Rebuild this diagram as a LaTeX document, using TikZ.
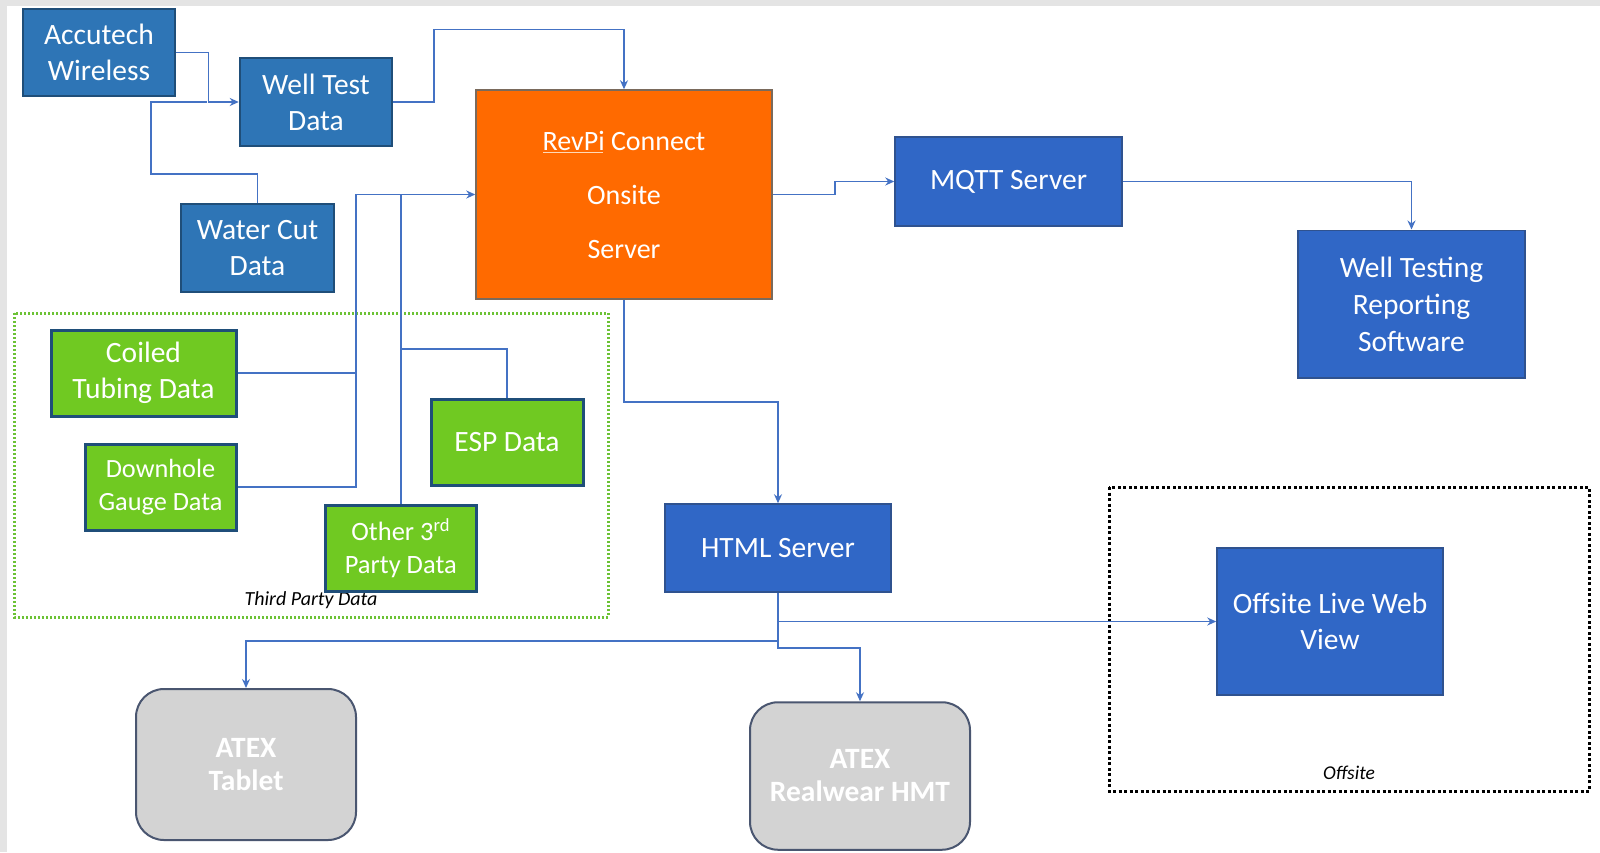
\documentclass[tikz,border=0pt]{standalone}
\usepackage{fontspec}
\setmainfont{Carlito}
\usetikzlibrary{arrows.meta}
\definecolor{bgGrey}{HTML}{E4E4E4}
\definecolor{stBlue}{HTML}{2E75B6}
\definecolor{stBorder}{HTML}{1F4E79}
\definecolor{brBlue}{HTML}{3067C6}
\definecolor{brBorder}{HTML}{2F528F}
\definecolor{oran}{HTML}{FF6A00}
\definecolor{oranBorder}{HTML}{7A6A5C}
\definecolor{grn}{HTML}{70C922}
\definecolor{gry}{HTML}{D3D3D3}
\definecolor{gryBorder}{HTML}{4A5670}
\definecolor{conn}{HTML}{4472C4}
\definecolor{dotGreen}{HTML}{6CC235}
\definecolor{ulColor}{HTML}{FFD9B8}
\tikzset{
  base/.style={inner sep=0pt, text=white, align=center, font=\fontsize{29.5}{36}\selectfont},
  oldblue/.style={base, fill=stBlue, draw=stBorder, line width=2.5pt},
  newblue/.style={base, fill=brBlue, draw=brBorder, line width=1.5pt},
  greenbox/.style={base, fill=grn, draw=stBorder, line width=3pt},
  greybox/.style={base, fill=gry, draw=gryBorder, line width=2pt, rounded corners=28pt, font=\fontsize{29.5}{33}\selectfont\bfseries},
  wire/.style={draw=conn, line width=1.5pt},
  arr/.style={wire, -{Stealth[length=9pt,width=8pt]}},
}
\begin{document}
\begin{tikzpicture}[x=1pt,y=-1pt]
\useasboundingbox (0,0) rectangle (1600,852);
\fill[bgGrey] (0,0) rectangle (1600,852);
\fill[white] (7,6) rectangle (1600,852);

% group frames
\draw[dotGreen, line width=3pt, dash pattern=on 2pt off 2pt] (14,313) rectangle (608,617);
\draw[black, line width=3pt, dash pattern=on 3pt off 2.5pt] (1109,487) rectangle (1589,791);
\node[font=\fontsize{20}{24}\selectfont\itshape, anchor=center] (tpd) at (311,600) {Third Party Data};
\node[font=\fontsize{19.5}{24}\selectfont\itshape, anchor=center] (offl) at (1349,773) {Offsite};

% nodes
\node[oldblue, minimum width=152pt, minimum height=87pt] (acc) at (99,52.5) {Accutech\\Wireless};
\node[oldblue, minimum width=152pt, minimum height=88pt] (wtd) at (316,102) {Well Test\\Data};
\node[oldblue, minimum width=153pt, minimum height=88pt] (wcd) at (257.5,248) {Water Cut\\Data};
\node[base, fill=oran, draw=oranBorder, line width=1.5pt, minimum width=296pt, minimum height=209pt, font=\fontsize{28}{54}\selectfont] (revpi) at (624,194.5) {RevPi Connect\\Onsite\\Server};
\draw[ulColor, line width=0.8pt] ([xshift=-81pt,yshift=42pt]revpi.center) -- ([xshift=-21pt,yshift=42pt]revpi.center);
\node[newblue, minimum width=227pt, minimum height=89pt] (mqtt) at (1008.5,181.5) {MQTT Server};
\node[newblue, minimum width=227pt, minimum height=147.5pt, font=\fontsize{29.5}{37}\selectfont] (wtrs) at (1411.5,304) {Well Testing\\Reporting\\Software};
\node[greenbox, minimum width=185pt, minimum height=86pt] (coil) at (143.5,373) {Coiled\\Tubing Data};
\node[greenbox, minimum width=151pt, minimum height=86pt, font=\fontsize{26.3}{32.6}\selectfont] (down) at (160.5,487) {Downhole\\Gauge Data};
\node[greenbox, minimum width=152pt, minimum height=86pt] (esp) at (507,442) {ESP Data};
\node[greenbox, minimum width=150.5pt, minimum height=86pt, font=\fontsize{26.5}{32.6}\selectfont] (other) at (400.75,548) {Other 3\textsuperscript{rd}\\Party Data};
\node[newblue, minimum width=226pt, minimum height=88pt] (html) at (778,548) {HTML Server};
\node[newblue, minimum width=226pt, minimum height=147pt] (olwv) at (1330,621.5) {Offsite Live Web\\View};
\node[greybox, minimum width=220pt, minimum height=151pt] (tablet) at (246,764.5) {ATEX\\Tablet};
\node[greybox, minimum width=220pt, minimum height=147.5pt] (hmt) at (860,776) {ATEX\\Realwear HMT};

% connectors
\coordinate (j1) at (207,102);
\coordinate (j2) at (400.75,349);
\coordinate (j3) at (356,373);
\draw[arr] (acc.east) -- ++(32,0) |- (wtd.west);
\draw[wire] (wcd.north) -- ++(0,-29) -| (151,102) -- (j1);
\draw[arr] (wtd.east) -| (434,29.5) -| (revpi.north);
\draw[arr] (coil.east) -| (356,194.5) -- (revpi.west);
\draw[wire] (down.east) -| (j3);
\draw[wire] (other.north) -- (other.north |- revpi.west);
\draw[wire] (esp.north) |- (j2);
\draw[arr] (revpi.east) -- ++(62,0) |- (mqtt.west);
\draw[arr] (mqtt.east) -| (wtrs.north);
\draw[arr] (revpi.south) -- ++(0,102) -| (html.north);
\draw[arr] (html.south) |- (olwv.west);
\draw[arr] (html.south) -- (778,641) -| (tablet.north);
\draw[arr] (html.south) -- (778,648) -| (hmt.north);
\end{tikzpicture}
\end{document}
